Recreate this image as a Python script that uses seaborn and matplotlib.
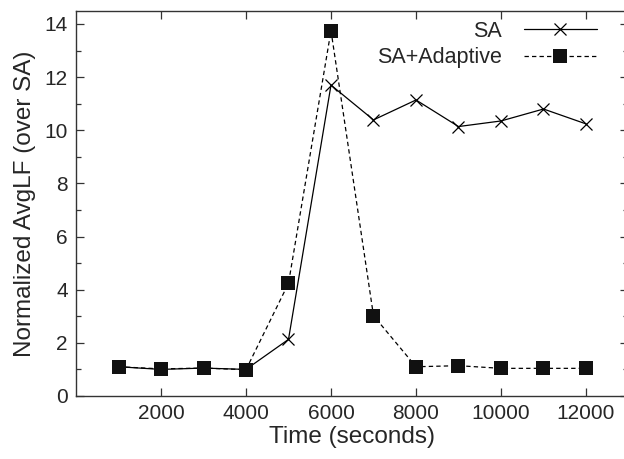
import matplotlib
matplotlib.use("Agg")
import matplotlib.pyplot as plt
from matplotlib.ticker import MultipleLocator
import seaborn as sns
import pandas as pd

sns.set_theme(style="white")
plt.rcParams["font.family"] = ["Liberation Sans", "DejaVu Sans"]

time_s = [1000, 2000, 3000, 4000, 5000, 6000, 7000, 8000, 9000, 10000, 11000, 12000]
sa = [1.10, 1.00, 1.05, 1.00, 2.13, 11.70, 10.39, 11.14, 10.14, 10.35, 10.80, 10.24]
sa_adaptive = [1.10, 1.02, 1.05, 0.99, 4.24, 13.75, 3.02, 1.10, 1.14, 1.04, 1.04, 1.04]

df = pd.DataFrame({"Time": time_s, "SA": sa, "SA+Adaptive": sa_adaptive})

fig = plt.figure(figsize=(6.24, 4.59), dpi=100)
ax = fig.add_axes([0.1218, 0.1373, 0.8854, 0.8394])

sns.lineplot(data=df, x="Time", y="SA", ax=ax, color="black", linewidth=0.9,
             marker="x", markersize=9, markeredgewidth=0.9,
             markeredgecolor="black", label="SA")
sns.lineplot(data=df, x="Time", y="SA+Adaptive", ax=ax, color="black", linewidth=0.9,
             linestyle=(0, (3.5, 2.5)), marker="s", markersize=9.5,
             markeredgewidth=0, markerfacecolor="#111111", label="SA+Adaptive")

ax.set_xlim(0, 13000)
ax.set_ylim(0, 14.5)
ax.set_xticks([2000, 4000, 6000, 8000, 10000, 12000])
ax.yaxis.set_major_locator(MultipleLocator(2))
ax.yaxis.set_minor_locator(MultipleLocator(1))

ax.tick_params(axis="both", which="both", direction="in", bottom=True, left=True,
               top=True, right=True, color="#333333", labelsize=15, pad=6)
ax.tick_params(which="major", length=6, width=0.9)
ax.tick_params(which="minor", length=3.5, width=0.9)
for s in ax.spines.values():
    s.set_color("#333333")
    s.set_linewidth(1.0)

ax.set_xlabel("Time (seconds)", fontsize=17.5, labelpad=2)
ax.set_ylabel("Normalized AvgLF (over SA)", fontsize=17.5, labelpad=6)

leg = ax.legend(loc="upper right", bbox_to_anchor=(0.97, 1.013), frameon=False,
                markerfirst=False, fontsize=15.5, handlelength=3.4,
                handletextpad=1.0, labelspacing=0.25, borderaxespad=0.3)

fig.savefig("out.png", dpi=100)
